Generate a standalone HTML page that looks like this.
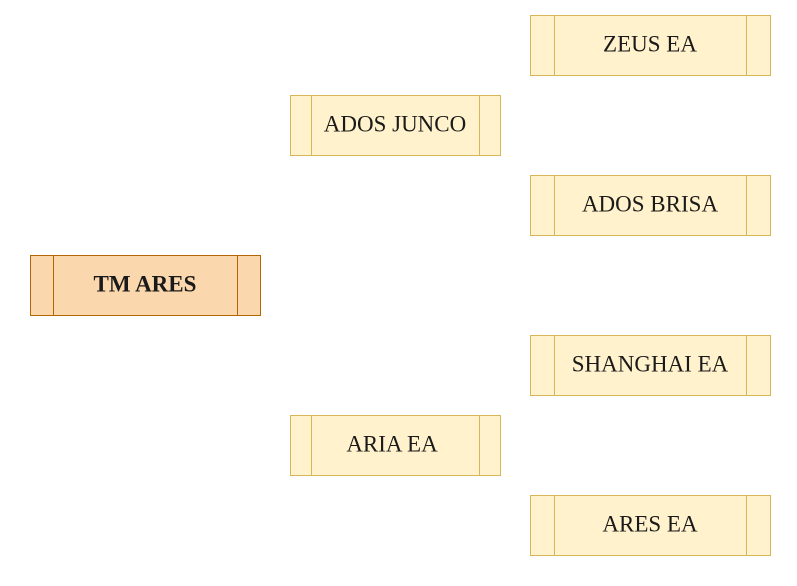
<!DOCTYPE html>
<html><head><meta charset="utf-8"><style>
html,body{margin:0;padding:0;background:#fff;width:797px;height:586px;overflow:hidden}
text{font-family:"Liberation Serif",serif;font-size:23px;fill:#1a1a1a;text-anchor:middle;dominant-baseline:central}
</style></head><body>
<svg width="797" height="586" xmlns="http://www.w3.org/2000/svg">
<g fill="#fff2cc" stroke="#d6b656" stroke-width="1">
<rect x="530.5" y="15.5" width="240" height="60"/><line x1="554.5" y1="15.5" x2="554.5" y2="75.5"/><line x1="746.5" y1="15.5" x2="746.5" y2="75.5"/>
<rect x="530.5" y="175.5" width="240" height="60"/><line x1="554.5" y1="175.5" x2="554.5" y2="235.5"/><line x1="746.5" y1="175.5" x2="746.5" y2="235.5"/>
<rect x="530.5" y="335.5" width="240" height="60"/><line x1="554.5" y1="335.5" x2="554.5" y2="395.5"/><line x1="746.5" y1="335.5" x2="746.5" y2="395.5"/>
<rect x="530.5" y="495.5" width="240" height="60"/><line x1="554.5" y1="495.5" x2="554.5" y2="555.5"/><line x1="746.5" y1="495.5" x2="746.5" y2="555.5"/>
<rect x="290.5" y="95.5" width="210" height="60"/><line x1="311.5" y1="95.5" x2="311.5" y2="155.5"/><line x1="479.5" y1="95.5" x2="479.5" y2="155.5"/>
<rect x="290.5" y="415.5" width="210" height="60"/><line x1="311.5" y1="415.5" x2="311.5" y2="475.5"/><line x1="479.5" y1="415.5" x2="479.5" y2="475.5"/>
</g>
<g fill="#fad7ac" stroke="#b46504" stroke-width="1">
<rect x="30.5" y="255.5" width="230" height="60"/><line x1="53.5" y1="255.5" x2="53.5" y2="315.5"/><line x1="237.5" y1="255.5" x2="237.5" y2="315.5"/>
</g>
<text x="650" y="44">ZEUS EA</text>
<text x="650" y="204">ADOS BRISA</text>
<text x="650" y="364">SHANGHAI EA</text>
<text x="650" y="524">ARES EA</text>
<text x="395" y="124">ADOS JUNCO</text>
<text x="392" y="444">ARIA EA</text>
<text x="145" y="284" font-weight="bold">TM ARES</text>
</svg>
</body></html>
